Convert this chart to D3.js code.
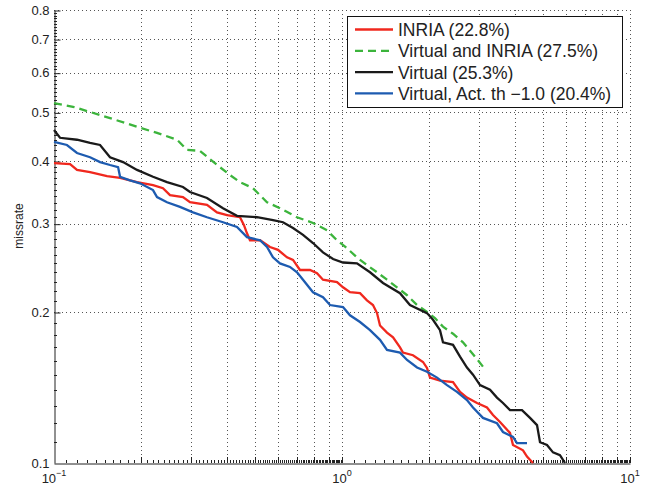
<!DOCTYPE html>
<html><head><meta charset="utf-8">
<script src="https://cdn.jsdelivr.net/npm/d3@7/dist/d3.min.js"></script>
<style>body{margin:0;background:#fff}svg{display:block}</style>
</head><body>
<svg id="c" width="651" height="485"></svg>
<script>
// ---- data (false positives per image vs. miss rate) ----
const inriaFppi = [0.1,0.1137,0.1202,0.1334,0.1528,0.1696,0.1942,0.2207,0.239,0.2528,0.2804,0.2966,0.3398,0.3681,0.3988,0.4424,0.4567,0.4678,0.4792,0.5193,0.5623,0.5995,0.6442,0.6759,0.7147,0.7743,0.8189,0.859,0.961,1.008,1.066,1.155,1.221,1.281,1.323,1.355,1.433,1.504,1.59,1.628,1.764,1.911,1.973,2.021,2.189,2.429,2.569,2.716,2.943,3.187,3.344,3.537,3.831,3.924,4.251,4.389,4.604];
const inriaMiss = [0.396,0.3945,0.384,0.38,0.373,0.37,0.363,0.358,0.353,0.342,0.339,0.331,0.327,0.316,0.312,0.309,0.298,0.287,0.278,0.278,0.2695,0.266,0.257,0.254,0.2425,0.2425,0.239,0.232,0.2295,0.224,0.219,0.218,0.211,0.2065,0.199,0.188,0.182,0.178,0.17,0.166,0.164,0.159,0.1547,0.148,0.146,0.145,0.1386,0.135,0.1317,0.129,0.1246,0.1207,0.1148,0.1086,0.106,0.103,0.1];

const mixFppi = [0.1,0.1164,0.1334,0.1565,0.1942,0.2279,0.2674,0.2896,0.3212,0.3681,0.4085,0.4424,0.4909,0.5491,0.609,0.698,0.793,0.887,0.961,1.041,1.127,1.221,1.323,1.433,1.552,1.682,1.822,1.973,2.103,2.242,2.429,2.631,2.895,3.112];
const mixMiss = [0.522,0.513,0.501,0.487,0.468,0.455,0.441,0.421,0.419,0.393,0.375,0.363,0.353,0.331,0.322,0.309,0.301,0.291,0.278,0.268,0.257,0.248,0.240,0.232,0.224,0.216,0.2065,0.200,0.1945,0.187,0.181,0.174,0.163,0.1547];

const virtFppi = [0.1,0.1049,0.1202,0.1334,0.1445,0.1565,0.1737,0.1942,0.2207,0.2468,0.2804,0.2966,0.3398,0.3862,0.4319,0.507,0.5759,0.6238,0.6759,0.7322,0.793,0.859,0.931,1.008,1.127,1.251,1.388,1.59,1.722,1.973,2.07,2.189,2.242,2.429,2.569,2.716,2.85,3.015,3.265,3.452,3.622,3.831,4.217,4.496,4.755,4.87,5.15,5.403,5.713,5.947];
const virtMiss = [0.461,0.445,0.441,0.4345,0.4305,0.407,0.398,0.384,0.372,0.363,0.355,0.347,0.3375,0.322,0.311,0.309,0.305,0.302,0.294,0.285,0.2745,0.263,0.255,0.251,0.25,0.24,0.2285,0.218,0.2065,0.199,0.193,0.184,0.174,0.172,0.163,0.155,0.15,0.143,0.14,0.135,0.1317,0.1275,0.1275,0.123,0.119,0.11,0.1086,0.105,0.1037,0.1];

const actFppi = [0.1,0.1109,0.1202,0.1334,0.1445,0.1565,0.1669,0.1696,0.1836,0.1989,0.2207,0.2279,0.2468,0.2738,0.3039,0.3398,0.3862,0.4319,0.4678,0.5193,0.5491,0.5759,0.609,0.6597,0.698,0.7322,0.793,0.859,0.9085,1.008,1.066,1.155,1.251,1.355,1.433,1.59,1.682,1.822,1.973,2.138,2.315,2.507,2.716,2.85,3.087,3.452,3.622,3.924,4.051,4.389];
const actMiss = [0.4365,0.4305,0.415,0.407,0.398,0.3927,0.389,0.372,0.366,0.361,0.35,0.339,0.331,0.324,0.316,0.309,0.302,0.2955,0.282,0.278,0.2695,0.257,0.25,0.246,0.24,0.232,0.219,0.214,0.2065,0.2046,0.197,0.191,0.184,0.176,0.168,0.166,0.1605,0.155,0.152,0.148,0.143,0.1386,0.1335,0.129,0.123,0.12,0.1153,0.1127,0.1096,0.1096];

const seriesNames = ["INRIA (22.8%)","Virtual and INRIA (27.5%)","Virtual (25.3%)","Virtual, Act. th \u22121.0 (20.4%)"];
const yTickValues = [0.1,0.2,0.3,0.4,0.5,0.6,0.7,0.8];
const xGridValues = [0.2,0.3,0.4,0.5,0.6,0.7,0.8,0.9,1,2,3,4,5,6,7,8,9,10];
const xLabelExponents = [-1,0,1];
const yLabel = "missrate";

// ---- styles ----
const colors = ["#f0281e","#3cb43c","#1a1a1a","#1d5bb0"];
const dashes = [null,"8,5",null,null];
const FONT = "'Liberation Sans', Arial, Helvetica, sans-serif";

const series = [
  {name:seriesNames[0], xs:inriaFppi, ys:inriaMiss},
  {name:seriesNames[1], xs:mixFppi, ys:mixMiss},
  {name:seriesNames[2], xs:virtFppi, ys:virtMiss},
  {name:seriesNames[3], xs:actFppi, ys:actMiss}
];

const svg = d3.select("#c");
const L=54, R=630, T=10, B=463;
const x = d3.scaleLog().domain([0.1,10]).range([L,R]);
const y = d3.scaleLog().domain([0.1,0.8]).range([B,T]);

// grid
const grid = svg.append("g").attr("stroke","#555").attr("stroke-width",1).attr("stroke-dasharray","1,3");
grid.selectAll("line.gy").data(yTickValues.slice(1)).join("line")
  .attr("x1",L).attr("x2",R).attr("y1",d=>Math.round(y(d))+0.5).attr("y2",d=>Math.round(y(d))+0.5);
grid.selectAll("line.gx").data(xGridValues).join("line")
  .attr("y1",B).attr("y2",T).attr("x1",d=>Math.round(x(d))+0.5).attr("x2",d=>Math.round(x(d))+0.5);

// minor ticks
const yMinor = d3.range(11,80).map(v=>v/100).filter(v=>Math.abs(v*10-Math.round(v*10))>1e-6);
const xMinor = d3.range(11,100).map(v=>v/100).concat(d3.range(11,100).map(v=>v/10))
  .filter(v=>!xGridValues.some(g=>Math.abs(g-v)<1e-9));
const tk = svg.append("g").attr("stroke","#222").attr("stroke-width",1);
tk.selectAll("line.ym").data(yMinor).join("line")
  .attr("x1",L).attr("x2",L+3).attr("y1",d=>Math.round(y(d))+0.5).attr("y2",d=>Math.round(y(d))+0.5);
tk.selectAll("line.xm").data(xMinor).join("line")
  .attr("y1",B).attr("y2",B-3).attr("x1",d=>Math.round(x(d))+0.5).attr("x2",d=>Math.round(x(d))+0.5);
tk.selectAll("line.xM").data(xGridValues).join("line")
  .attr("y1",B).attr("y2",B-6).attr("x1",d=>Math.round(x(d))+0.5).attr("x2",d=>Math.round(x(d))+0.5);

// y axis
const yAxis = d3.axisLeft(y).tickValues(yTickValues).tickSizeInner(-6).tickSizeOuter(0).tickPadding(5).tickFormat(d3.format(".1f"));
const ya = svg.append("g").attr("transform",`translate(${L+0.5},0)`).call(yAxis);
ya.selectAll("text").attr("font-family",FONT).attr("font-size",13).attr("fill","#222");
ya.selectAll(".tick line").attr("stroke","#222").attr("transform","translate(0,0.5)");
ya.select(".domain").attr("stroke","#222");
ya.selectAll(".tick").filter(d=>d===0.1).select("line").remove();

// x axis
const xAxis = d3.axisBottom(x).tickValues(xLabelExponents.map(e=>Math.pow(10,e))).tickSize(0).tickFormat("");
const xa = svg.append("g").attr("transform",`translate(0,${B+0.5})`).call(xAxis);
xa.select(".domain").attr("stroke","#222");
const xl = svg.append("g").attr("font-family",FONT).attr("fill","#222");
xLabelExponents.forEach(e=>{
  const t = xl.append("text").attr("x",x(Math.pow(10,e))).attr("y",483).attr("text-anchor","middle").attr("font-size",13);
  t.append("tspan").text("10");
  t.append("tspan").attr("dy",-7).attr("font-size",9).text(e<0?"\u2212"+Math.abs(e):String(e));
});

// y label
svg.append("text").attr("transform",`translate(23,226) rotate(-90)`).attr("text-anchor","middle")
  .attr("font-family",FONT).attr("font-size",12).attr("fill","#222").text(yLabel);

// lines
const line = d3.line().x(d=>x(d[0])).y(d=>y(d[1]));
series.forEach((s,i)=>{
  svg.append("path").datum(s.xs.map((v,k)=>[v,s.ys[k]]))
    .attr("d",line).attr("fill","none").attr("stroke",colors[i]).attr("stroke-width",2.3)
    .attr("stroke-dasharray",dashes[i]).attr("stroke-linejoin","miter");
});

// legend
const lg = svg.append("g");
lg.append("rect").attr("x",347.5).attr("y",16.5).attr("width",275).attr("height",91)
  .attr("fill","#fff").attr("stroke","#111").attr("stroke-width",1);
series.forEach((s,i)=>{
  const cy = 29.5 + i*21.3;
  lg.append("line").attr("x1",355).attr("x2",393).attr("y1",cy).attr("y2",cy)
    .attr("stroke",colors[i]).attr("stroke-width",2.3).attr("stroke-dasharray",dashes[i]);
  lg.append("text").attr("x",398).attr("y",cy+6.5).attr("font-family",FONT).attr("font-size",17.5)
    .attr("fill","#222").text(s.name);
});
</script>
</body></html>
